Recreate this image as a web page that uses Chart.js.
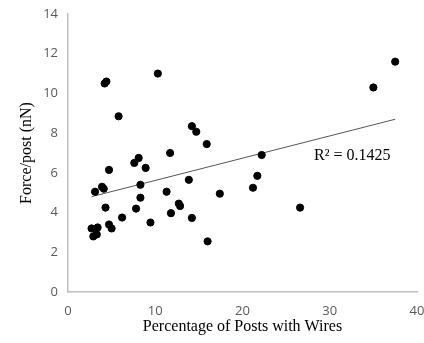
<!DOCTYPE html>
<html>
<head>
<meta charset="utf-8">
<script src="https://cdn.jsdelivr.net/npm/chart.js@4"></script>
<style>
  html, body { margin: 0; padding: 0; background: #fff; }
  #wrap { width: 424px; height: 343px; }
</style>
</head>
<body>
<div id="wrap"><canvas id="chart" width="424" height="343"></canvas></div>
<script>
// Percentage of posts with wires (x) vs force per post (y)
const wirePct = [2.7, 2.9, 3.1, 3.3, 3.4, 3.9, 4.1, 4.2, 4.4, 4.3, 4.7, 4.7, 5.0, 5.8, 6.2,
    7.6, 7.8, 8.1, 8.3, 8.3, 8.9, 9.45, 10.3, 11.3, 11.7, 11.8, 12.7, 12.85, 13.85, 14.2,
    14.2, 14.7, 15.9, 16.0, 17.4, 21.2, 21.7, 22.2, 26.6, 35.0, 37.5];
const forcePost = [3.2, 2.8, 5.05, 2.9, 3.25, 5.3, 5.2, 10.5, 10.6, 4.25, 6.15, 3.4, 3.2, 8.85, 3.75,
    6.5, 4.2, 6.75, 5.4, 4.75, 6.25, 3.5, 11.0, 5.05, 7.0, 3.97, 4.45, 4.33, 5.65, 8.35,
    3.73, 8.07, 7.45, 2.55, 4.95, 5.25, 5.85, 6.9, 4.25, 10.3, 11.6];

// linear trendline end points
const trendX = [2.7, 37.5];
const trendY = [4.8, 8.7];
const rSquared = '0.1425';

const xTicks = [0, 10, 20, 30, 40];
const yTicks = [0, 2, 4, 6, 8, 10, 12, 14];

const points = wirePct.map((x, i) => ({ x: x, y: forcePost[i] }));
const trend = trendX.map((x, i) => ({ x: x, y: trendY[i] }));

// R² label next to the trendline
const r2Label = {
    id: 'r2Label',
    afterDatasetsDraw(chart) {
        const ctx = chart.ctx;
        const xs = chart.scales.x, ys = chart.scales.y;
        ctx.save();
        ctx.font = '16px "Liberation Serif", "Times New Roman", serif';
        ctx.fillStyle = '#000';
        ctx.textBaseline = 'middle';
        ctx.textAlign = 'left';
        ctx.fillText('R² = ' + rSquared, xs.getPixelForValue(28.2), ys.getPixelForValue(6.85));
        ctx.restore();
    }
};

const tickFont = { family: '"Open Sans", Lato, sans-serif', size: 13 };
const titleFont = { family: '"Liberation Serif", "Times New Roman", serif', size: 16 };

new Chart(document.getElementById('chart').getContext('2d'), {
    type: 'scatter',
    data: {
        datasets: [{
            data: points,
            backgroundColor: '#000',
            borderColor: '#000',
            pointRadius: 3.6,
            pointHoverRadius: 3.6
        }, {
            type: 'line',
            data: trend,
            borderColor: '#555',
            borderWidth: 1,
            pointRadius: 0,
            fill: false
        }]
    },
    options: {
        responsive: false,
        animation: false,
        plugins: { legend: { display: false }, tooltip: { enabled: false } },
        layout: { padding: { top: 14, right: 7, left: 0, bottom: 0 } },
        scales: {
            x: {
                type: 'linear',
                min: 0, max: 40,
                afterBuildTicks: s => { s.ticks = xTicks.map(v => ({ value: v })); },
                afterFit: s => { s.height = 51; s.paddingRight = 2; },
                grid: { display: false },
                border: { display: true, color: '#bfbfbf', width: 1.5 },
                ticks: { font: tickFont, color: '#595959', padding: 3, maxRotation: 0 },
                title: { display: true, text: 'Percentage of Posts with Wires', font: titleFont, color: '#000', padding: { top: 0, bottom: 7 } }
            },
            y: {
                type: 'linear',
                min: 0, max: 14,
                afterBuildTicks: s => { s.ticks = yTicks.map(v => ({ value: v })); },
                afterFit: s => { s.width = 68; },
                grid: { display: false },
                border: { display: true, color: '#bfbfbf', width: 1.5 },
                ticks: { font: tickFont, color: '#595959', padding: 2 },
                title: { display: true, text: 'Force/post (nN)', font: titleFont, color: '#000', padding: { top: 17, bottom: 0 } }
            }
        }
    },
    plugins: [r2Label]
});
</script>
</body>
</html>
